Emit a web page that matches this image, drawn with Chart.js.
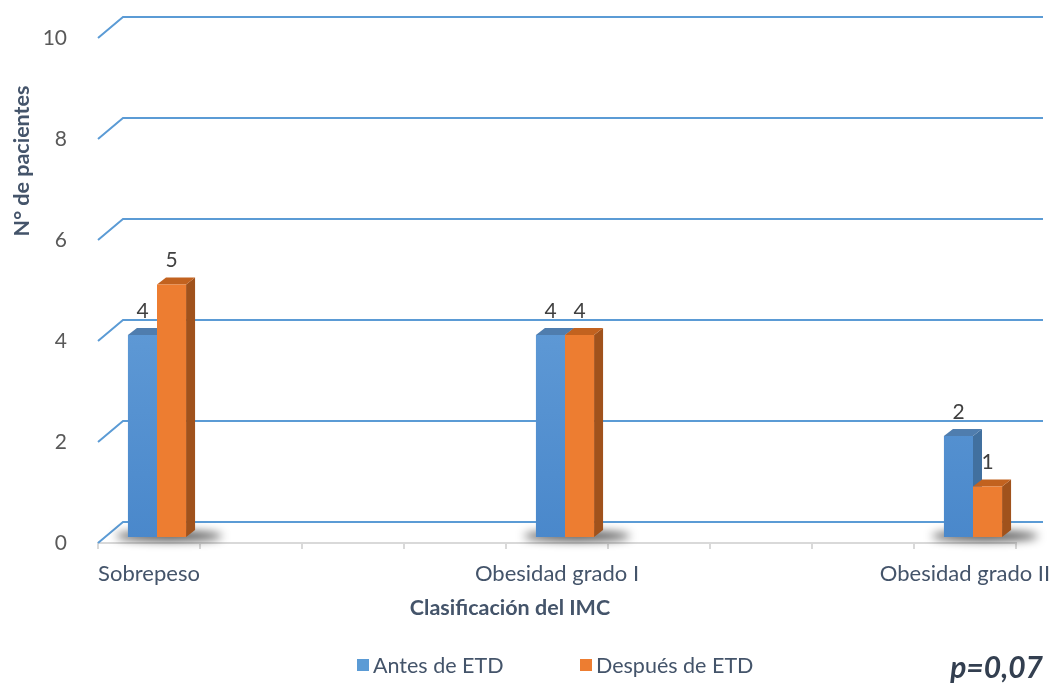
<!DOCTYPE html>
<html><head><meta charset="utf-8">
<script src="https://cdn.jsdelivr.net/npm/chart.js@4.4.1/dist/chart.umd.min.js"></script>
<style>html,body{margin:0;padding:0;background:#fff;}#wrap{width:1055px;height:684px;}</style>
</head><body><div id="wrap"><canvas id="c" width="1055" height="684"></canvas></div>
<script>
// ---- data ----
const categories = ['Sobrepeso', 'Obesidad grado I', 'Obesidad grado II'];
const antes = [4, 4, 2];
const despues = [5, 4, 1];
const seriesNames = ['Antes de ETD', 'Después de ETD'];
const yTicks = [0, 2, 4, 6, 8, 10];
const xTitle = 'Clasificación del IMC';
const yTitle = 'N° de pacientes';
const pText = 'p=0,07';

// ---- styles ----
const FONT = 'Lato, "Open Sans", sans-serif';
const BLUE = '#5B9BD5', ORANGE = '#ED7D31';
const SIDE = ['#41709F', '#A0521C'];
const TOP = ['#4F7DAE', '#C2621F'];
const GAP_SLOTS = 3;          // empty category slots between groups in the original axis
const WALL_DX = 25, WALL_DY = 21;   // back wall offset
const BAR_SHIFT_X = 8, BAR_SHIFT_Y = 6; // bars sit in middle of floor depth
const DEPTH_X = 9, DEPTH_Y = 7;     // bar depth faces

// build axis table
const labels = [], dataA = [], dataD = [];
categories.forEach((c, i) => {
  if (i > 0) for (let k = 0; k < GAP_SLOTS; k++) { labels.push(''); dataA.push(null); dataD.push(null); }
  labels.push(c); dataA.push(antes[i]); dataD.push(despues[i]);
});

function blueGrad(ctx) {
  const ch = ctx.chart, area = ch.chartArea;
  if (!area) return BLUE;
  const g = ch.ctx.createLinearGradient(0, area.top, 0, area.bottom);
  g.addColorStop(0, '#7AB0E3');
  g.addColorStop(1, '#4A88CB');
  return g;
}

const deco = {
  id: 'deco',
  beforeDatasetsDraw(chart) {
    const { ctx, chartArea, scales: { y } } = chart;
    ctx.save();
    ctx.strokeStyle = BLUE; ctx.lineWidth = 2;
    yTicks.forEach(v => {
      const py = y.getPixelForValue(v);
      ctx.beginPath();
      ctx.moveTo(chartArea.left, py);
      ctx.lineTo(chartArea.left + WALL_DX, py - WALL_DY);
      ctx.lineTo(chartArea.right + 27, py - WALL_DY);
      ctx.stroke();
    });
    ctx.restore();

    ctx.save();
    ctx.translate(BAR_SHIFT_X, -BAR_SHIFT_Y);
    const m0 = chart.getDatasetMeta(0), m1 = chart.getDatasetMeta(1);
    // shadows
    m0.data.forEach((b0, i) => {
      if (dataA[i] == null) return;
      const b1 = m1.data[i];
      const x0 = b0.x - b0.width / 2, x1 = b1.x + b1.width / 2;
      ctx.save();
      ctx.filter = 'blur(5px)';
      ctx.fillStyle = 'rgba(0,0,0,0.7)';
      ctx.beginPath();
      ctx.ellipse((x0 + x1) / 2 + 12, b0.base - 1, (x1 - x0) / 2 + 24, 5, 0, 0, Math.PI * 2);
      ctx.fill();
      ctx.restore();
    });
    // top and side faces
    m0.data.forEach((b0, i) => {
      if (dataA[i] == null) return;
      [m0.data[i], m1.data[i]].forEach((b, k) => {
        const l = b.x - b.width / 2, r = b.x + b.width / 2, t = b.y, bt = b.base;
        ctx.fillStyle = SIDE[k];
        ctx.beginPath();
        ctx.moveTo(r, t); ctx.lineTo(r + DEPTH_X, t - DEPTH_Y);
        ctx.lineTo(r + DEPTH_X, bt - DEPTH_Y); ctx.lineTo(r, bt); ctx.closePath(); ctx.fill();
        ctx.fillStyle = TOP[k];
        ctx.beginPath();
        ctx.moveTo(l, t); ctx.lineTo(l + DEPTH_X, t - DEPTH_Y);
        ctx.lineTo(r + DEPTH_X, t - DEPTH_Y); ctx.lineTo(r, t); ctx.closePath(); ctx.fill();
      });
    });
    // stays translated for the bar fronts
  },
  afterDatasetsDraw(chart) {
    const { ctx } = chart;
    ctx.fillStyle = '#404040';
    ctx.font = '21px ' + FONT;
    ctx.textAlign = 'center'; ctx.textBaseline = 'middle';
    chart.data.datasets.forEach((ds, k) => {
      chart.getDatasetMeta(k).data.forEach((b, i) => {
        const v = ds.data[i];
        if (v == null) return;
        ctx.fillText(String(v), b.x, b.y - 24);
      });
    });
    ctx.restore();
  },
  afterDraw(chart) {
    const { ctx } = chart;
    ctx.save();
    ctx.fillStyle = '#44546A';
    ctx.font = 'bold 21.5px ' + FONT;
    ctx.textAlign = 'center'; ctx.textBaseline = 'middle';
    ctx.fillText(xTitle, 510, 608);
    ctx.save();
    ctx.translate(22, 161); ctx.rotate(-Math.PI / 2);
    ctx.fillText(yTitle, 0, 0);
    ctx.restore();
    // legend
    ctx.font = '21.5px ' + FONT;
    ctx.textAlign = 'left';
    const lx = [357, 580];
    chart.data.datasets.forEach((ds, k) => {
      ctx.fillStyle = k === 0 ? BLUE : ORANGE;
      ctx.fillRect(lx[k], 659, 12, 12);
      ctx.fillStyle = '#44546A';
      ctx.fillText(ds.label, lx[k] + 16, 666);
    });
    // p value
    ctx.font = 'italic bold 30px ' + FONT;
    ctx.textAlign = 'right';
    ctx.fillStyle = '#333F50';
    ctx.fillText(pText, 1043, 668);
    ctx.restore();
  }
};

new Chart(document.getElementById('c'), {
  type: 'bar',
  data: {
    labels: labels,
    datasets: [
      { label: seriesNames[0], data: dataA, backgroundColor: blueGrad, borderWidth: 0 },
      { label: seriesNames[1], data: dataD, backgroundColor: ORANGE, borderWidth: 0 }
    ]
  },
  options: {
    responsive: false,
    animation: false,
    devicePixelRatio: 1,
    layout: { padding: { top: 38, right: 39, left: 0, bottom: 0 } },
    datasets: { bar: { categoryPercentage: 0.57, barPercentage: 1.0 } },
    plugins: { legend: { display: false }, tooltip: { enabled: false } },
    scales: {
      x: {
        offset: true,
        grid: { display: true, drawOnChartArea: false, drawTicks: true, tickLength: 6, color: '#D9D9D9', lineWidth: 2, offset: true },
        border: { display: true, color: '#D9D9D9', width: 2 },
        ticks: { autoSkip: false, maxRotation: 0, minRotation: 0, color: '#44546A', font: { family: FONT, size: 22 }, padding: 12 },
        afterFit(s) { s.height = 141; s.paddingLeft = 0; s.paddingRight = 0; }
      },
      y: {
        min: 0, max: 10,
        afterBuildTicks(s) { s.ticks = yTicks.map(v => ({ value: v })); },
        grid: { display: false },
        border: { display: false },
        ticks: { color: '#595959', font: { family: FONT, size: 21 }, padding: 23 },
        afterFit(s) { s.width = 98; s.paddingTop = 0; s.paddingBottom = 0; }
      }
    }
  },
  plugins: [deco]
});
</script>
</body></html>
